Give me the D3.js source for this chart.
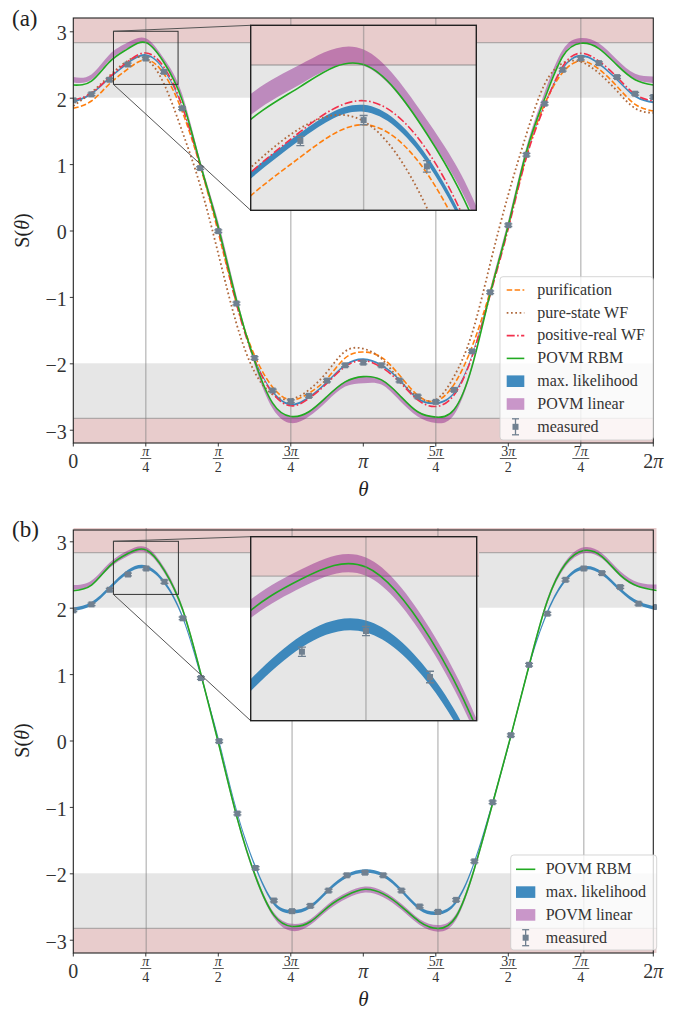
<!DOCTYPE html>
<html>
<head>
<meta charset="utf-8">
<script src="https://cdn.jsdelivr.net/npm/d3@7"></script>
<style>
  body { margin: 0; background: #fff; }
  svg { display: block; font-family: "Liberation Serif", "DejaVu Serif", serif; }
  svg text { font-family: "Liberation Serif", "DejaVu Serif", serif; }
</style>
</head>
<body>
<div id="chart"></div>
<script>
// measurement angles: theta = k * pi / 16, k = 0..32
const angleSteps = d3.range(0, 33);
const theta = angleSteps.map(k => k * Math.PI / 16);

const measured = [1.96, 2.05, 2.27, 2.50, 2.59, 2.39, 1.84, 0.94, -0.01, -1.10, -1.92, -2.41, -2.57, -2.49, -2.26, -2.03, -1.99,
                  -2.03, -2.26, -2.50, -2.58, -2.40, -1.82, -0.93, 0.08, 1.14, 1.91, 2.42, 2.59, 2.52, 2.31, 2.06, 2.01];
const measuredErr = [0.02, 0.02, 0.02, 0.02, 0.02, 0.025, 0.02, 0.02, 0.02, 0.02, 0.02, 0.02, 0.02, 0.02, 0.02, 0.02, 0.02,
                     0.02, 0.02, 0.02, 0.02, 0.02, 0.02, 0.02, 0.02, 0.02, 0.02, 0.02, 0.02, 0.02, 0.02, 0.02, 0.02];

// panel (a)
const purification = [1.84, 1.95, 2.21, 2.43, 2.57, 2.36, 1.80, 0.97, -0.03, -1.10, -1.88, -2.36, -2.55, -2.45, -2.23, -1.92, -1.83,
                      -1.91, -2.18, -2.48, -2.57, -2.32, -1.75, -0.92, 0.07, 1.13, 1.90, 2.38, 2.55, 2.43, 2.17, 1.90, 1.80];
const pureStateWF = [1.875, 2.08, 2.33, 2.555, 2.585, 2.21, 1.50, 0.68, -0.35, -1.40, -2.13, -2.47, -2.54, -2.40, -2.13, -1.82, -1.78,
                     -1.93, -2.25, -2.50, -2.55, -2.20, -1.55, -0.50, 0.54, 1.45, 2.20, 2.52, 2.54, 2.37, 2.10, 1.84, 1.77];
const positiveRealWF = [1.96, 2.07, 2.31, 2.54, 2.674, 2.46, 1.88, 0.99, 0.02, -1.10, -1.95, -2.45, -2.64, -2.53, -2.30, -2.05, -1.96,
                        -2.06, -2.28, -2.55, -2.65, -2.48, -1.90, -0.97, 0.03, 1.10, 1.87, 2.47, 2.67, 2.55, 2.31, 2.05, 1.95];
const povmRbmA = [2.19, 2.25, 2.54, 2.735, 2.83, 2.53, 1.97, 1.01, 0.05, -1.05, -1.96, -2.60, -2.80, -2.73, -2.50, -2.28, -2.20,
                  -2.25, -2.48, -2.73, -2.81, -2.70, -2.05, -0.95, 0.08, 1.19, 1.98, 2.62, 2.82, 2.74, 2.49, 2.27, 2.19];
const maxLikelihoodLowA = [1.925, 2.045, 2.285, 2.505, 2.626, 2.405, 1.845, 0.965, -0.015, -1.095, -1.945, -2.445, -2.635, -2.525, -2.295, -2.045, -1.955,
                           -2.045, -2.265, -2.545, -2.615, -2.465, -1.89, -0.955, 0.035, 1.105, 1.885, 2.425, 2.615, 2.495, 2.255, 2.005, 1.915];
const maxLikelihoodHighA = [1.955, 2.075, 2.315, 2.535, 2.656, 2.435, 1.875, 0.995, 0.015, -1.065, -1.915, -2.415, -2.605, -2.495, -2.265, -2.015, -1.925,
                            -2.015, -2.235, -2.515, -2.585, -2.435, -1.86, -0.925, 0.065, 1.135, 1.915, 2.455, 2.645, 2.525, 2.285, 2.035, 1.945];
const povmLinearLowA = [2.23, 2.27, 2.56, 2.745, 2.825, 2.53, 1.99, 1.01, 0.06, -1.05, -2.02, -2.68, -2.90, -2.80, -2.57, -2.35, -2.30,
                        -2.32, -2.56, -2.80, -2.90, -2.78, -2.07, -0.95, 0.09, 1.18, 2.00, 2.64, 2.82, 2.75, 2.50, 2.28, 2.22];
const povmLinearHighA = [2.31, 2.35, 2.65, 2.83, 2.895, 2.59, 2.06, 1.06, 0.13, -0.98, -1.95, -2.60, -2.80, -2.72, -2.49, -2.27, -2.20,
                         -2.24, -2.47, -2.72, -2.80, -2.69, -2.00, -0.88, 0.16, 1.26, 2.08, 2.72, 2.90, 2.82, 2.57, 2.36, 2.32];

// panel (b)
const povmRbmB = [2.256, 2.34, 2.63, 2.817, 2.868, 2.559, 1.97, 1.00, -0.08, -1.18, -2.05, -2.63, -2.80, -2.73, -2.50, -2.33, -2.24,
                  -2.31, -2.50, -2.73, -2.83, -2.65, -1.93, -0.95, 0.07, 1.13, 2.10, 2.66, 2.86, 2.77, 2.49, 2.32, 2.26];
const maxLikelihoodLowB = [1.95, 2.034, 2.274, 2.519, 2.584, 2.354, 1.829, 0.944, -0.046, -1.126, -1.936, -2.476, -2.606, -2.526, -2.276, -2.066, -1.991,
                           -2.056, -2.286, -2.556, -2.626, -2.456, -1.856, -0.956, 0.034, 1.094, 1.904, 2.394, 2.574, 2.494, 2.244, 2.044, 1.964];
const maxLikelihoodHighB = [2.002, 2.086, 2.326, 2.571, 2.636, 2.406, 1.881, 0.996, 0.006, -1.074, -1.884, -2.424, -2.554, -2.474, -2.224, -2.014, -1.939,
                            -2.004, -2.234, -2.504, -2.574, -2.404, -1.804, -0.904, 0.086, 1.146, 1.956, 2.446, 2.626, 2.546, 2.296, 2.096, 2.016];
const povmLinearLowB = [2.27, 2.34, 2.60, 2.78, 2.83, 2.52, 1.93, 0.96, -0.12, -1.22, -2.09, -2.67, -2.87, -2.78, -2.55, -2.38, -2.29,
                        -2.36, -2.55, -2.78, -2.88, -2.70, -1.97, -0.99, 0.03, 1.09, 2.06, 2.62, 2.82, 2.74, 2.47, 2.31, 2.28];
const povmLinearHighB = [2.34, 2.41, 2.68, 2.86, 2.91, 2.60, 2.01, 1.04, -0.04, -1.14, -2.01, -2.59, -2.76, -2.69, -2.46, -2.29, -2.20,
                         -2.27, -2.46, -2.69, -2.78, -2.61, -1.89, -0.91, 0.11, 1.17, 2.14, 2.70, 2.91, 2.82, 2.55, 2.38, 2.35];

const xTickLabels = ["0", "π/4", "π/2", "3π/4", "π", "5π/4", "3π/2", "7π/4", "2π"];
const yTicks = [-3, -2, -1, 0, 1, 2, 3];
const classicalBound = 2;
const quantumBound = 2 * Math.SQRT2;

const serif = '"Liberation Serif", "DejaVu Serif", serif';
const svg = d3.select("#chart").append("svg").attr("width", 684).attr("height", 1010)
    .attr("font-family", serif);
const defs = svg.append("defs");

// italic for greek letters, upright for the rest
function mathText(sel, str) {
    str.split(/([πθ])/).filter(s => s.length).forEach(s => {
        sel.append("tspan").attr("font-style", /[πθ]/.test(s) ? "italic" : "normal").text(s);
    });
    return sel;
}

const fmtTick = d => d < 0 ? "\u2212" + Math.abs(d) : String(d);

class SPanel {
    constructor(opts) {
        Object.assign(this, opts);
        this.g = svg.append("g");
        this.draw();
    }

    draw() {
        this.x = d3.scaleLinear().domain([0, 2 * Math.PI]).range([this.left, this.contentRight]);
        this.xAxis = d3.scaleLinear().domain([0, 2 * Math.PI]).range([this.left, this.right]);
        this.y = d3.scaleLinear().domain([-3.2, 3.2]).range([this.bottom, this.top]);

        this.addPlot(this.g, this.x, this.y, "clip-" + this.id, [this.left, this.contentRight], [this.top, this.bottom]);
        this.addAxes();
        this.addInset();
        this.addLegend();
    }

    // bands, reference lines, fits and data, all clipped to the plot box
    addPlot(parent, x, y, clipId, xr, yr) {
        defs.append("clipPath").attr("id", clipId).append("rect")
            .attr("x", xr[0]).attr("y", yr[0]).attr("width", xr[1] - xr[0]).attr("height", yr[1] - yr[0]);
        const c = parent.append("g").attr("clip-path", `url(#${clipId})`);
        c.append("rect").attr("x", xr[0]).attr("y", yr[0])
            .attr("width", xr[1] - xr[0]).attr("height", yr[1] - yr[0]).attr("fill", "white");

        const spans = [
            { lo: quantumBound, hi: 6, color: "#8b0000" },
            { lo: -6, hi: -quantumBound, color: "#8b0000" },
            { lo: classicalBound, hi: quantumBound, color: "#808080" },
            { lo: -quantumBound, hi: -classicalBound, color: "#808080" }
        ];
        c.selectAll("rect.span").data(spans).enter().append("rect")
            .attr("class", "span")
            .attr("x", xr[0]).attr("width", xr[1] - xr[0])
            .attr("y", d => y(d.hi)).attr("height", d => y(d.lo) - y(d.hi))
            .attr("fill", d => d.color).attr("fill-opacity", 0.2);
        c.selectAll("line.bound").data([quantumBound, -quantumBound]).enter().append("line")
            .attr("x1", xr[0]).attr("x2", xr[1])
            .attr("y1", d => y(d)).attr("y2", d => y(d))
            .attr("stroke", "#808080").attr("stroke-opacity", 0.55).attr("stroke-width", 1.3);

        const area = d3.area()
            .x((d, i) => x(theta[i]))
            .y0(d => y(d[0])).y1(d => y(d[1]))
            .curve(d3.curveNatural);
        c.selectAll("path.band").data(this.bands).enter().append("path")
            .attr("d", d => area(d3.zip(d.lo, d.hi)))
            .attr("fill", d => d.color).attr("fill-opacity", d => d.opacity).attr("stroke", "none");

        const line = d3.line()
            .x((d, i) => x(theta[i])).y(d => y(d))
            .curve(d3.curveNatural);
        c.selectAll("path.fit").data(this.lines).enter().append("path")
            .attr("d", d => line(d.values))
            .attr("fill", "none").attr("stroke", d => d.color)
            .attr("stroke-width", d => d.width)
            .attr("stroke-dasharray", d => d.dash);

        // vertical guides at odd multiples of pi/4
        c.selectAll("line.guide").data([1, 3, 5, 7].map(k => k * Math.PI / 4)).enter().append("line")
            .attr("x1", d => x(d)).attr("x2", d => x(d))
            .attr("y1", yr[0]).attr("y2", yr[1])
            .attr("stroke", "#808080").attr("stroke-opacity", 0.5).attr("stroke-width", 1.4);

        const pts = c.append("g").selectAll("g").data(measured).enter().append("g")
            .attr("transform", (d, i) => `translate(${x(theta[i])},0)`);
        pts.append("line")
            .attr("y1", (d, i) => y(d - measuredErr[i])).attr("y2", (d, i) => y(d + measuredErr[i]))
            .attr("stroke", "#708090").attr("stroke-width", 1.3);
        pts.selectAll("line.cap").data((d, i) => [d - measuredErr[i], d + measuredErr[i]]).enter().append("line")
            .attr("x1", -4).attr("x2", 4).attr("y1", d => y(d)).attr("y2", d => y(d))
            .attr("stroke", "#708090").attr("stroke-width", 1.3);
        pts.append("rect")
            .attr("x", -3).attr("y", d => y(d) - 3).attr("width", 6).attr("height", 6)
            .attr("fill", "#708090");
    }

    addAxes() {
        const g = this.g;
        g.append("rect")
            .attr("x", this.left).attr("y", this.frameTop)
            .attr("width", this.right - this.left).attr("height", this.bottom - this.frameTop)
            .attr("fill", "none").attr("stroke", "#222").attr("stroke-width", 1.1);

        const tickVals = d3.range(9).map(k => k * Math.PI / 4);
        g.selectAll("line.xt").data(tickVals).enter().append("line")
            .attr("x1", d => this.xAxis(d)).attr("x2", d => this.xAxis(d))
            .attr("y1", this.bottom).attr("y2", this.bottom + 3.5)
            .attr("stroke", "#222").attr("stroke-width", 0.9);

        const lab = g.selectAll("g.xl").data(xTickLabels).enter().append("g")
            .attr("transform", (d, i) => `translate(${this.xAxis(tickVals[i])},${this.bottom})`)
            .attr("fill", "#333");
        lab.each(function (d) {
            const s = d3.select(this);
            if (d.includes("/")) {
                const [num, den] = d.split("/");
                mathText(s.append("text").attr("y", 13).attr("text-anchor", "middle").attr("font-size", 14), num);
                const hw = num.length > 1 ? 8.5 : 5.5;
                s.append("line").attr("x1", -hw).attr("x2", hw).attr("y1", 15.5).attr("y2", 15.5)
                    .attr("stroke", "#333").attr("stroke-width", 0.8);
                s.append("text").attr("y", 28.6).attr("text-anchor", "middle").attr("font-size", 14).text(den);
            } else {
                mathText(s.append("text").attr("y", 25.3).attr("text-anchor", "middle").attr("font-size", 20), d);
            }
        });

        const yAxis = g.append("g")
            .attr("transform", `translate(${this.left},0)`)
            .call(d3.axisLeft(this.y).tickValues(yTicks).tickSize(3.5).tickPadding(3).tickFormat(fmtTick));
        yAxis.select(".domain").remove();
        yAxis.attr("font-family", serif).attr("font-size", null);
        yAxis.selectAll("line").attr("stroke", "#222").attr("stroke-width", 0.9);
        yAxis.selectAll("text").attr("font-size", 20).attr("fill", "#333").attr("dy", "0.42em");

        mathText(g.append("text")
            .attr("x", (this.left + this.right) / 2).attr("y", this.bottom + 53)
            .attr("text-anchor", "middle").attr("font-size", 21).attr("fill", "#222"), "θ");
        mathText(g.append("text")
            .attr("transform", `translate(29,${this.y(0)}) rotate(-90)`)
            .attr("text-anchor", "middle").attr("font-size", 20).attr("fill", "#222"), "S(θ)");
        g.append("text").attr("x", 12).attr("y", this.top + this.labelDy)
            .attr("font-size", 23).attr("fill", "#222").text(this.label);
    }

    addInset() {
        const o = this.inset;
        const ix = d3.scaleLinear().domain(o.xlim).range([o.x0, o.cx1]);
        const iy = d3.scaleLinear().domain(o.ylim).range([o.y1, o.y0]);

        // marked region in the main plot and its connectors
        const bx = this.x(o.xlim[0]), bx2 = this.x(o.xlim[1]);
        const by = this.y(o.ylim[1]), by2 = this.y(o.ylim[0]);
        this.g.append("rect").attr("x", bx).attr("y", by).attr("width", bx2 - bx).attr("height", by2 - by)
            .attr("fill", "none").attr("stroke", "#333").attr("stroke-width", 1);
        this.g.selectAll("line.conn").data([[by, o.y0], [by2, o.y1]]).enter().append("line")
            .attr("x1", bx).attr("y1", d => d[0]).attr("x2", o.x0).attr("y2", d => d[1])
            .attr("stroke", "#555").attr("stroke-width", 1);

        const ig = this.g.append("g");
        this.addPlot(ig, ix, iy, "clip-inset-" + this.id, [o.x0, o.cx1], [o.y0, o.y1]);
        ig.append("rect").attr("x", o.x0).attr("y", o.y0)
            .attr("width", o.x1 - o.x0).attr("height", o.y1 - o.y0)
            .attr("fill", "none").attr("stroke", "#222").attr("stroke-width", 1.4);
    }

    addLegend() {
        const lg = this.legend;
        const g = this.g.append("g");
        g.append("rect").attr("x", lg.x).attr("y", lg.y).attr("width", lg.w).attr("height", lg.h)
            .attr("rx", 3).attr("fill", "white").attr("fill-opacity", 0.8)
            .attr("stroke", "#cccccc").attr("stroke-opacity", 0.8);
        const entries = this.lines.map(d => ({ kind: "line", d }))
            .concat(this.bands.map(d => ({ kind: "patch", d })))
            .concat([{ kind: "data", d: { name: "measured" } }]);
        const hx0 = lg.x + lg.handleX, hx1 = hx0 + lg.handleW;
        entries.forEach((e, i) => {
            const cy = lg.y + lg.firstRow + i * 22.8;
            if (e.kind === "line") {
                g.append("line").attr("x1", hx0).attr("x2", hx1).attr("y1", cy).attr("y2", cy)
                    .attr("stroke", e.d.color).attr("stroke-width", e.d.width).attr("stroke-dasharray", e.d.dash);
            } else if (e.kind === "patch") {
                g.append("rect").attr("x", hx0).attr("y", cy - 5.8).attr("width", hx1 - hx0).attr("height", 11.6)
                    .attr("fill", e.d.color).attr("fill-opacity", e.d.opacity);
            } else {
                const mx = (hx0 + hx1) / 2;
                g.append("line").attr("x1", mx).attr("x2", mx).attr("y1", cy - 8).attr("y2", cy + 8)
                    .attr("stroke", "#708090").attr("stroke-width", 1.3);
                g.selectAll("line.lcap").data([cy - 8, cy + 8]).enter().append("line")
                    .attr("x1", mx - 3.5).attr("x2", mx + 3.5).attr("y1", d => d).attr("y2", d => d)
                    .attr("stroke", "#708090").attr("stroke-width", 1.3);
                g.append("rect").attr("x", mx - 3).attr("y", cy - 3).attr("width", 6).attr("height", 6)
                    .attr("fill", "#708090");
            }
            g.append("text").attr("x", lg.x + lg.textX).attr("y", cy + 4.8)
                .attr("font-size", 16).attr("fill", "#333").text(e.d.name);
        });
    }
}

const rbmStyle = { color: "#22aa22", width: 1.6, dash: null };

new SPanel({
    id: "a", label: "(a)", labelDy: 8,
    left: 73.3, right: 653.3, contentRight: 653.3, top: 18, frameTop: 18, bottom: 443,
    lines: [
        { name: "purification", values: purification, color: "#ff7f0e", width: 1.6, dash: "5.5,2.4" },
        { name: "pure-state WF", values: pureStateWF, color: "#b0693c", width: 1.8, dash: "1.7,2.6" },
        { name: "positive-real WF", values: positiveRealWF, color: "#f2304c", width: 1.6, dash: "8,2.4,1.6,2.4" },
        Object.assign({ name: "POVM RBM", values: povmRbmA }, rbmStyle)
    ],
    bands: [
        { name: "max. likelihood", lo: maxLikelihoodLowA, hi: maxLikelihoodHighA, color: "#1f77b4", opacity: 0.85 },
        { name: "POVM linear", lo: povmLinearLowA, hi: povmLinearHighA, color: "#800080", opacity: 0.4 }
    ],
    inset: { x0: 250.7, x1: 476.3, cx1: 476.3, y0: 25.3, y1: 210.3, xlim: [0.435, 1.135], ylim: [2.2, 3.0] },
    legend: { x: 500, y: 276.7, w: 153.3, h: 163.3, firstRow: 13.3, handleX: 6.7, handleW: 17.6, textX: 37.3 }
});

new SPanel({
    id: "b", label: "(b)", labelDy: 8.7,
    left: 73.3, right: 653.3, contentRight: 656.7, top: 528, frameTop: 530, bottom: 953,
    lines: [Object.assign({ name: "POVM RBM", values: povmRbmB }, rbmStyle)],
    bands: [
        { name: "max. likelihood", lo: maxLikelihoodLowB, hi: maxLikelihoodHighB, color: "#1f77b4", opacity: 0.85 },
        { name: "POVM linear", lo: povmLinearLowB, hi: povmLinearHighB, color: "#800080", opacity: 0.4 }
    ],
    inset: { x0: 250.7, x1: 476.7, cx1: 479, y0: 536.7, y1: 720.7, xlim: [0.432, 1.132], ylim: [2.2, 3.0] },
    legend: { x: 510.7, y: 855, w: 146, h: 95, firstRow: 14.3, handleX: 5.3, handleW: 19.3, textX: 35 }
});
</script>
</body>
</html>
